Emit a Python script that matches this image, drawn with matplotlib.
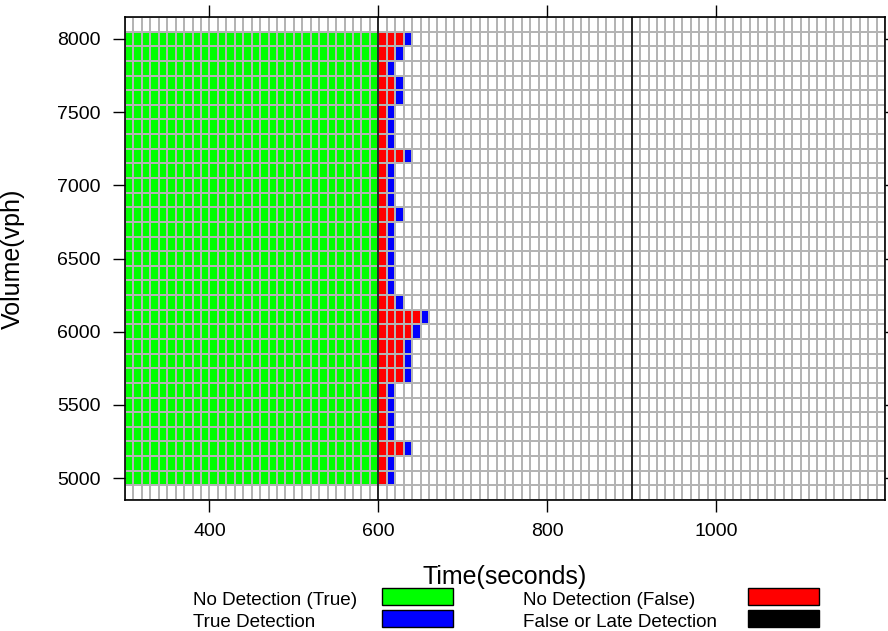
import numpy as np
import matplotlib
matplotlib.use('Agg')
import matplotlib.pyplot as plt
from matplotlib.colors import ListedColormap, BoundaryNorm
from matplotlib.patches import Rectangle

plt.rcParams['font.family'] = ['Liberation Sans', 'DejaVu Sans']

# Volume levels (vph), one row each
volumes = [5000, 5100, 5200, 5300, 5400, 5500, 5600, 5700, 5800, 5900, 6000,
           6100, 6200, 6300, 6400, 6500, 6600, 6700, 6800, 6900, 7000,
           7100, 7200, 7300, 7400, 7500, 7600, 7700, 7800, 7900, 8000]
# time step (s) at which the true detection happens, per volume
detect_time = [610, 610, 630, 610, 610, 610, 610, 630, 630, 630, 640,
               650, 620, 610, 610, 610, 610, 610, 620, 610, 610,
               610, 630, 610, 610, 610, 620, 620, 610, 620, 630]
event_start = 600
event_end = 900
t_min, t_max, t_step = 300, 1200, 10
vol_step = 100

legend_labels = ['No Detection (True)', 'True Detection',
                 'No Detection (False)', 'False or Late Detection']
legend_colors = ['#00ff00', '#0000ff', '#ff0000', '#000000']

# status grid: 0 empty, 1 no detection (true), 2 no detection (false), 3 true detection
t_edges = np.arange(t_min, t_max + t_step, t_step)
v_edges = np.arange(volumes[0] - 1.5 * vol_step, volumes[-1] + 1.5 * vol_step + 1, vol_step)
t_left = t_edges[:-1]
grid = np.zeros((len(v_edges) - 1, len(t_left)))
for i, (v, td) in enumerate(zip(volumes, detect_time)):
    row = i + 1
    grid[row, (t_left >= t_min) & (t_left < event_start)] = 1
    grid[row, (t_left >= event_start) & (t_left < td)] = 2
    grid[row, t_left == td] = 3

cmap = ListedColormap(['#ffffff', '#00ff00', '#ff0000', '#0000ff', '#000000'])
norm = BoundaryNorm([-0.5, 0.5, 1.5, 2.5, 3.5, 4.5], cmap.N)

W, H = 888, 631
fig = plt.figure(figsize=(W / 100, H / 100), dpi=100)
ax = fig.add_axes([125 / W, 1 - 500 / H, 760 / W, 483 / H])

ax.pcolormesh(t_edges, v_edges, grid, cmap=cmap, norm=norm,
              edgecolors='#b4b4b4', linewidth=0.7, snap=False)
ax.axvline(event_start, color='black', lw=1.1)
ax.axvline(event_end, color='black', lw=1.1)

ax.set_xlim(t_min, t_max)
ax.set_ylim(v_edges[0], v_edges[-1])
ax.set_xticks([400, 600, 800, 1000])
ax.set_yticks([5000, 5500, 6000, 6500, 7000, 7500, 8000])
ax.tick_params(direction='out', length=8.5, width=1, labelsize=14,
               top=True, right=True, color='black')
ax.tick_params(axis='x', pad=8)
ax.tick_params(axis='y', pad=9)
for s in ax.spines.values():
    s.set_linewidth(1.2)
    s.set_color('black')

ax.set_ylabel('Volume(vph)', fontsize=18)
ax.yaxis.set_label_coords(-0.132, 0.5)
ax.set_xlabel('Time(seconds)', fontsize=18, va='center')
ax.xaxis.set_label_coords(0.5, -0.159)

# legend below the plot: label then colour key, two columns
text_x = [193, 193, 523, 523]
key_x = [382, 382, 748, 748]
baseline_y = [605, 627, 605, 627]
key_top = [588, 610, 588, 610]
for lab, col, tx, kx, by, kt in zip(legend_labels, legend_colors, text_x, key_x, baseline_y, key_top):
    fig.text(tx / W, 1 - by / H, lab, fontsize=13.6, va='baseline', ha='left')
    fig.patches.append(Rectangle((kx / W, 1 - (kt + 16.5) / H), 71 / W, 16.5 / H,
                                 transform=fig.transFigure, facecolor=col,
                                 edgecolor='black', linewidth=1))

fig.savefig('out.png', dpi=100)
